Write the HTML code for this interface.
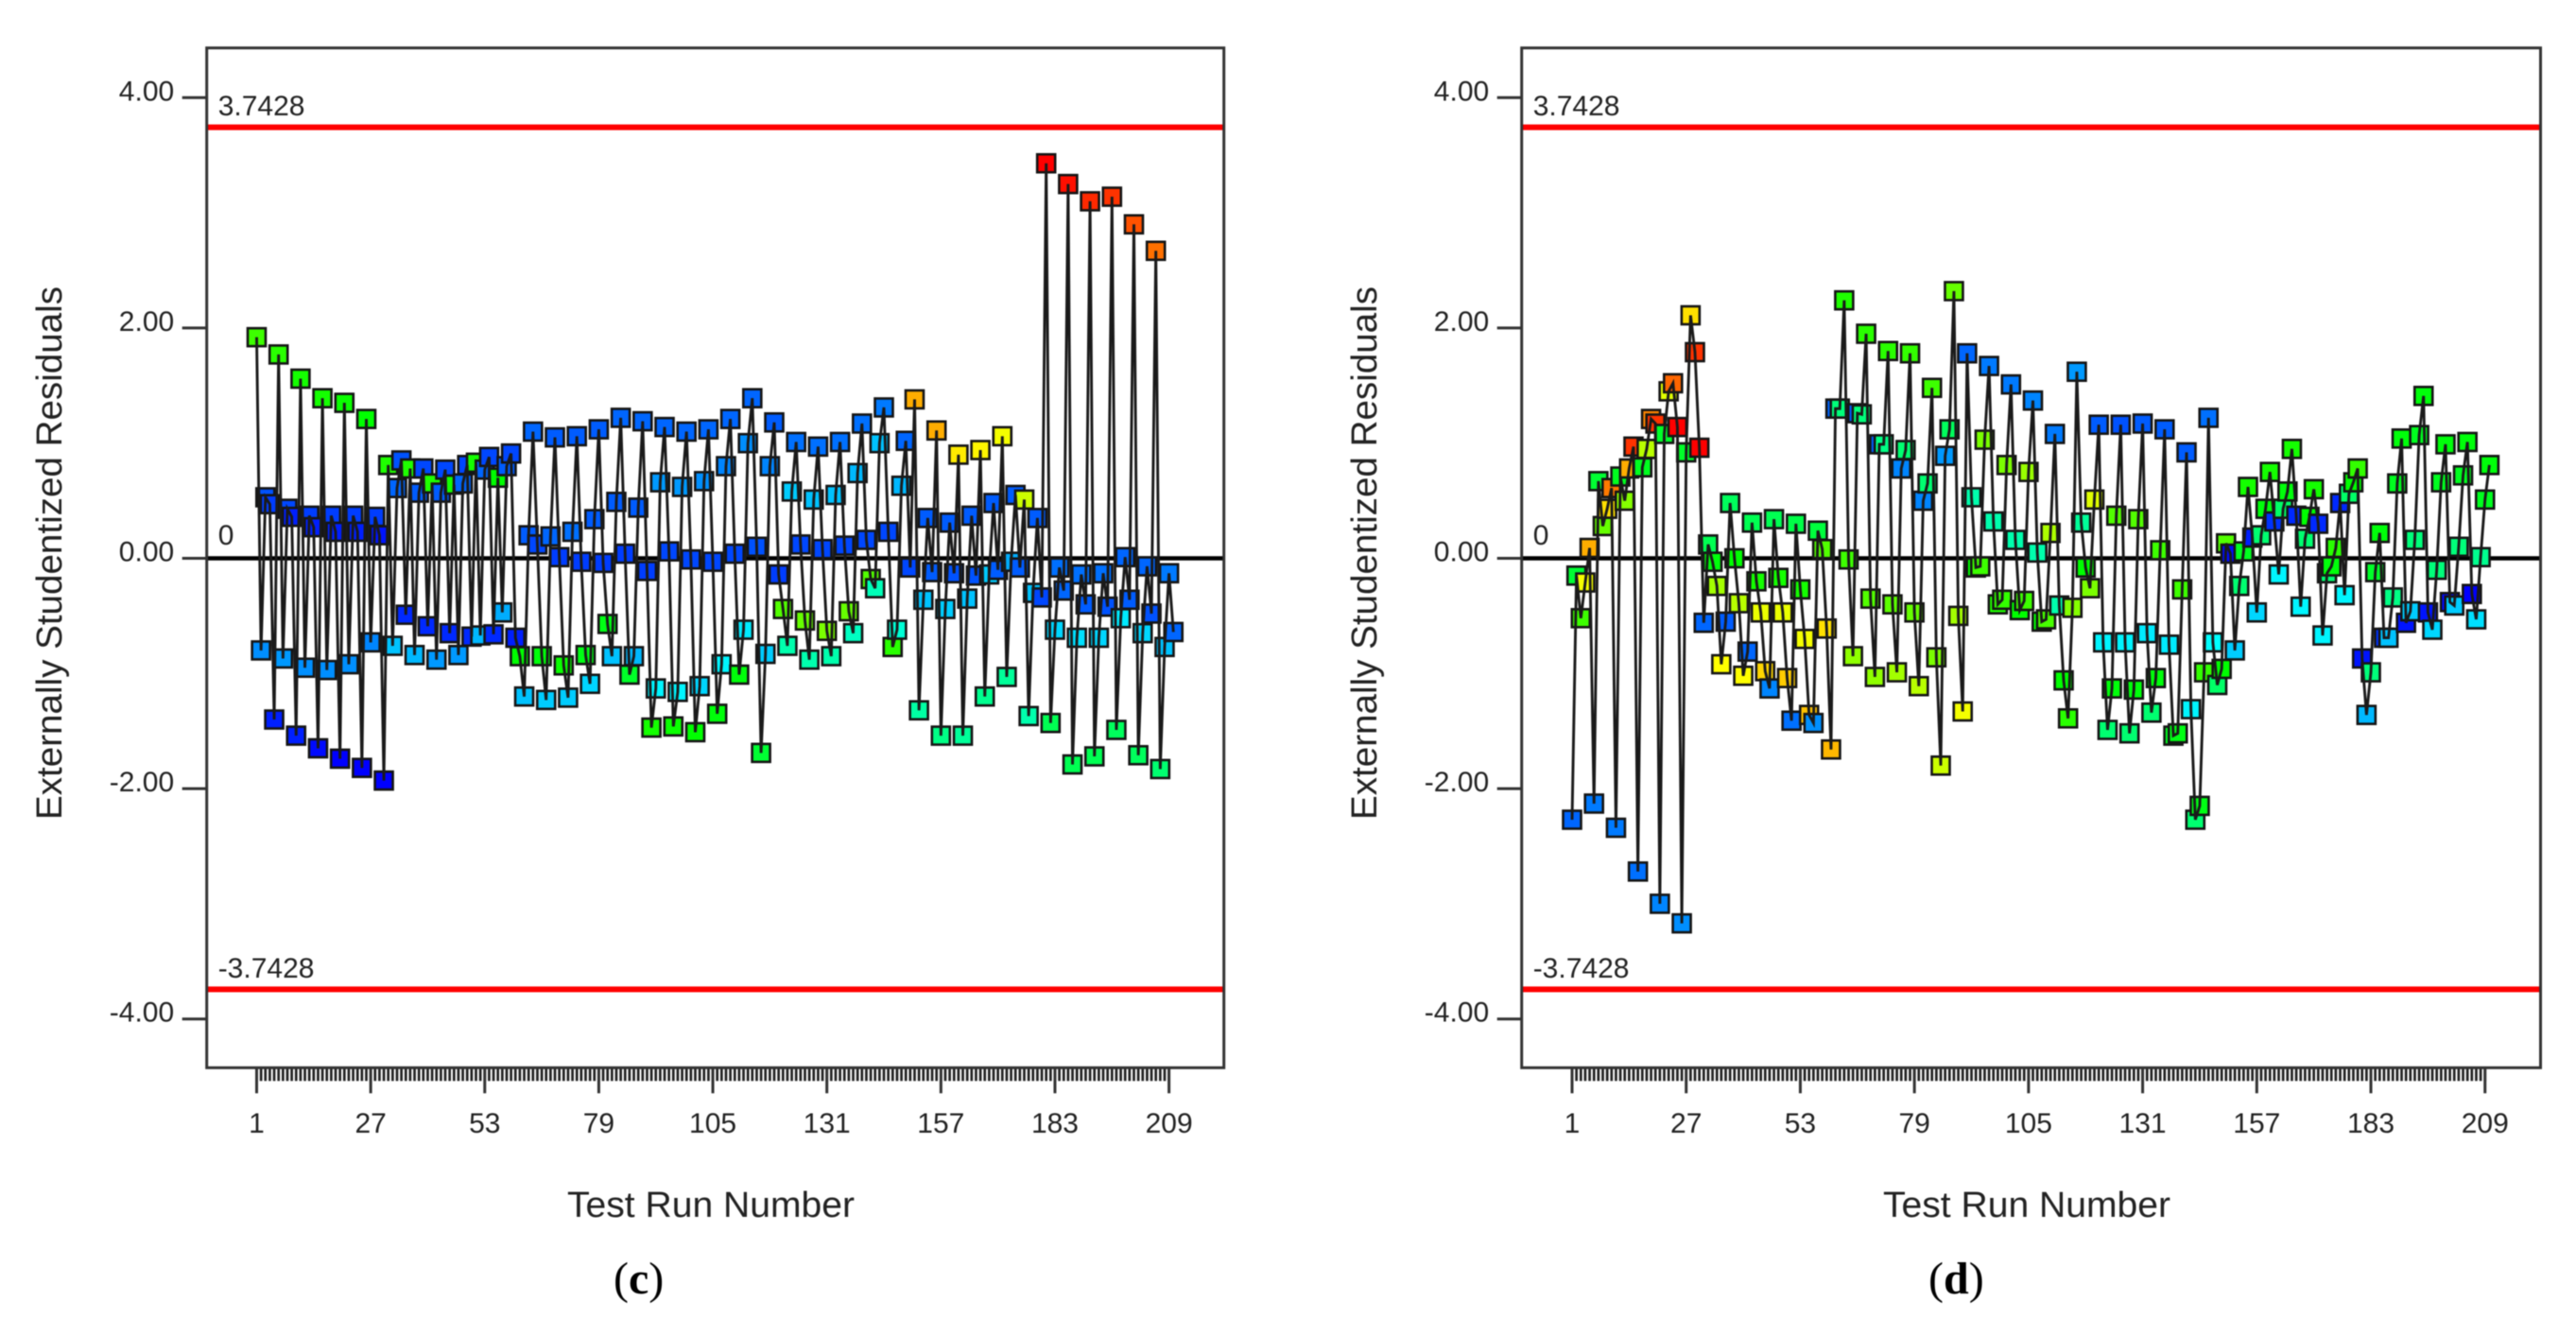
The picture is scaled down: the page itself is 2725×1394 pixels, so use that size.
<!DOCTYPE html>
<html lang="en">
<head>
<meta charset="utf-8">
<title>Externally Studentized Residuals vs Test Run Number</title>
<style>
html,body{margin:0;padding:0;background:#fff;}
svg{display:block;filter:blur(0.45px);}
text{font-family:"Liberation Sans",Arial,sans-serif;fill:#222;}
.cap{font-family:"Liberation Serif","Times New Roman",serif;fill:#000;font-size:48px;}
</style>
</head>
<body>
<svg id="figure" xmlns="http://www.w3.org/2000/svg" width="2725" height="1394" viewBox="0 0 2725 1394">
  <rect x="0" y="0" width="2725" height="1394" fill="#fff"/>

  <g id="panel-c"></g>
  <g id="panel-d"></g>

  <text transform="translate(65,585) rotate(-90)" text-anchor="middle" font-size="38" textLength="564" lengthAdjust="spacingAndGlyphs">Externally Studentized Residuals</text>
  <text x="752" y="1287" text-anchor="middle" font-size="38" textLength="304" lengthAdjust="spacingAndGlyphs">Test Run Number</text>
  <text class="cap" x="649" y="1368">(<tspan font-weight="bold">c</tspan>)</text>

  <text transform="translate(1456,585) rotate(-90)" text-anchor="middle" font-size="38" textLength="564" lengthAdjust="spacingAndGlyphs">Externally Studentized Residuals</text>
  <text x="2144" y="1287" text-anchor="middle" font-size="38" textLength="304" lengthAdjust="spacingAndGlyphs">Test Run Number</text>
  <text class="cap" x="2040" y="1368">(<tspan font-weight="bold">d</tspan>)</text>
</svg>

<script>
const yTickValues = [4, 2, 0, -2, -4];
const yTickLabels = ["4.00", "2.00", "0.00", "-2.00", "-4.00"];
const xTickRuns = [1, 27, 53, 79, 105, 131, 157, 183, 209];
const limitValues = [3.7428, -3.7428];
const limitLabels = ["3.7428", "-3.7428"];

const residualsC = [
1.92,-0.80,0.53,0.47,-1.40,
1.77,-0.87,0.43,0.36,-1.54,
1.56,-0.95,0.37,0.27,-1.65,
1.39,-0.97,0.37,0.23,-1.74,
1.35,-0.92,0.37,0.23,-1.82,
1.21,-0.73,0.36,0.20,-1.93,
0.81,-0.76,0.61,0.85,-0.49,
0.78,-0.84,0.57,0.78,-0.59,
0.65,-0.88,0.57,0.77,-0.65,
0.64,-0.84,0.65,0.81,-0.68,
0.83,-0.67,0.77,0.88,-0.66,
0.70,-0.47,0.80,0.91,-0.69,
-0.85,-1.20,0.20,1.10,0.12,
-0.85,-1.23,0.19,1.05,0.01,
-0.93,-1.21,0.23,1.06,-0.03,
-0.84,-1.09,0.34,1.12,-0.04,
-0.57,-0.85,0.49,1.22,0.04,
-1.01,-0.85,0.44,1.19,-0.11,
-1.47,-1.13,0.66,1.14,0.06,
-1.46,-1.16,0.62,1.10,-0.01,
-1.51,-1.11,0.67,1.12,-0.03,
-1.35,-0.92,0.80,1.21,0.04,
-1.01,-0.62,1.00,1.39,0.10,
-1.69,-0.83,0.80,1.18,-0.14,
-0.44,-0.76,0.58,1.01,0.12,
-0.54,-0.88,0.51,0.97,0.08,
-0.63,-0.85,0.55,1.01,0.11,
-0.46,-0.65,0.74,1.17,0.16,
-0.18,-0.26,1.00,1.31,0.23,
-0.77,-0.62,0.63,1.02,-0.08,
1.38,-1.32,-0.36,0.35,-0.12,
1.11,-1.54,-0.44,0.31,-0.13,
0.90,-1.54,-0.35,0.37,-0.15,
0.94,-1.20,-0.14,0.48,-0.10,
1.06,-1.03,-0.03,0.55,-0.08,
0.51,-1.37,-0.30,0.35,-0.34,
3.43,-1.43,-0.62,-0.08,-0.28,
3.25,-1.79,-0.69,-0.14,-0.40,
3.10,-1.72,-0.69,-0.13,-0.42,
3.14,-1.49,-0.52,0.01,-0.36,
2.90,-1.71,-0.65,-0.07,-0.48,
2.67,-1.83,-0.77,-0.13,-0.64
];

const responseLevelC = [
.56,.14,.08,.06,.03,
.54,.15,.07,.03,.03,
.52,.14,.06,.03,.01,
.52,.14,.06,.03,0,
.51,.14,.06,.03,0,
.50,.13,.06,.02,0,
.53,.19,.10,.08,.04,
.53,.18,.09,.07,.04,
.53,.15,.09,.07,.04,
.52,.15,.10,.07,.04,
.52,.18,.10,.07,.04,
.50,.17,.09,.07,.03,
.50,.19,.09,.10,.07,
.49,.20,.10,.09,.06,
.51,.20,.11,.09,.06,
.48,.21,.09,.09,.06,
.48,.19,.09,.10,.06,
.46,.18,.09,.10,.06,
.52,.24,.15,.10,.07,
.51,.24,.15,.10,.07,
.50,.21,.14,.10,.07,
.49,.24,.13,.10,.07,
.49,.23,.14,.10,.08,
.45,.20,.13,.09,.06,
.58,.33,.20,.11,.07,
.60,.33,.19,.11,.07,
.62,.33,.19,.11,.07,
.60,.31,.18,.11,.07,
.58,.32,.19,.12,.07,
.54,.29,.18,.10,.07,
.83,.34,.19,.09,.09,
.83,.37,.20,.09,.08,
.77,.35,.19,.09,.08,
.76,.36,.20,.09,.09,
.74,.35,.17,.09,.09,
.70,.33,.19,.09,.07,
1,.42,.21,.11,.10,
.985,.42,.22,.11,.09,
.96,.42,.21,.11,.08,
.95,.41,.23,.10,.09,
.92,.41,.21,.10,.08,
.89,.39,.19,.12,.10
];

const residualsD = [
-2.27,-0.15,-0.52,-0.21,0.09,
-2.13,0.67,0.28,0.43,0.61,
-2.34,0.71,0.50,0.78,0.97,
-2.72,0.79,0.95,1.21,1.17,
-3.00,1.08,1.45,1.52,1.14,
-3.17,0.92,2.11,1.79,0.96,
-0.56,0.12,-0.03,-0.24,-0.92,
-0.55,0.48,0.00,-0.39,-1.02,
-0.81,0.31,-0.20,-0.47,-0.98,
-1.13,0.34,-0.17,-0.47,-1.04,
-1.41,0.30,-0.27,-0.70,-1.36,
-1.43,0.24,0.08,-0.61,-1.66,
1.30,1.30,2.24,-0.01,-0.85,
1.26,1.25,1.95,-0.35,-1.03,
0.99,0.99,1.80,-0.40,-0.99,
0.78,0.94,1.78,-0.47,-1.11,
0.50,0.65,1.48,-0.86,-1.80,
0.89,1.12,2.32,-0.50,-1.33,
1.78,0.53,-0.08,-0.07,1.03,
1.67,0.32,-0.40,-0.36,0.81,
1.51,0.16,-0.45,-0.37,0.75,
1.37,0.05,-0.55,-0.53,0.22,
1.08,-0.41,-1.06,-1.39,-0.43,
1.62,0.31,-0.08,-0.26,0.51,
1.16,-0.73,-1.49,-1.13,0.37,
1.16,-0.73,-1.52,-1.14,0.34,
1.17,-0.65,-1.34,-1.04,0.07,
1.12,-0.75,-1.54,-1.52,-0.27,
0.92,-1.31,-2.27,-2.15,-0.99,
1.22,-0.73,-1.10,-0.96,0.13,
0.04,-0.80,-0.24,0.06,0.62,
0.18,-0.47,0.20,0.43,0.75,
0.32,-0.14,0.43,0.58,0.95,
0.37,-0.42,0.17,0.36,0.60,
0.30,-0.67,-0.13,-0.07,0.09,
0.48,-0.32,0.56,0.66,0.78,
-0.87,-1.36,-0.99,-0.12,0.22,
-0.69,-0.69,-0.34,0.65,1.04,
-0.56,-0.46,0.16,1.07,1.41,
-0.47,-0.62,-0.10,0.66,0.99,
-0.38,-0.41,0.10,0.72,1.01,
-0.31,-0.53,0.01,0.51,0.81
];

const responseLevelD = [
.10,.45,.56,.74,.83,
.12,.45,.60,.78,.88,
.12,.47,.63,.83,.95,
.11,.47,.68,.87,.95,
.13,.46,.72,.90,1,
.14,.46,.78,.95,1,
.10,.42,.49,.66,.75,
.09,.41,.50,.68,.75,
.10,.42,.52,.73,.79,
.13,.42,.52,.73,.80,
.11,.43,.52,.74,.81,
.14,.44,.58,.78,.82,
.10,.38,.53,.56,.64,
.09,.38,.54,.58,.64,
.09,.37,.54,.59,.66,
.13,.39,.55,.60,.68,
.13,.39,.56,.62,.70,
.15,.41,.60,.66,.74,
.10,.33,.50,.56,.62,
.12,.33,.53,.55,.62,
.12,.33,.50,.56,.65,
.13,.33,.50,.57,.67,
.12,.33,.50,.54,.63,
.15,.35,.50,.62,.72,
.09,.24,.39,.49,.58,
.08,.24,.39,.49,.58,
.09,.23,.39,.49,.56,
.09,.23,.47,.48,.56,
.09,.24,.39,.48,.55,
.11,.25,.40,.50,.58,
.01,.20,.39,.47,.52,
.03,.21,.39,.49,.52,
.05,.24,.40,.49,.52,
.04,.24,.39,.50,.52,
.04,.24,.39,.49,.54,
.04,.24,.40,.50,.55,
.02,.18,.38,.46,.49,
.05,.19,.37,.47,.49,
.02,.20,.38,.47,.49,
.02,.21,.38,.47,.49,
.01,.20,.38,.47,.49,
0,.22,.36,.47,.49
];

const SVG_NS = "http://www.w3.org/2000/svg";

function make(tag, attrs, parent) {
  const el = document.createElementNS(SVG_NS, tag);
  Object.keys(attrs).forEach(function (k) { el.setAttribute(k, attrs[k]); });
  parent.appendChild(el);
  return el;
}

function rainbow(t) {
  const v = Math.max(0, Math.min(1, t)) * 4;
  let r = 0, g = 0, b = 0;
  if (v < 1) { g = v; b = 1; }
  else if (v < 2) { g = 1; b = 2 - v; }
  else if (v < 3) { r = v - 2; g = 1; }
  else { r = 1; g = 4 - v; }
  return "rgb(" + Math.round(r * 255) + "," + Math.round(g * 255) + "," + Math.round(b * 255) + ")";
}

function drawPanel(panel, residuals, levels, box) {
  const yScale = function (v) { return 590.5 - v * 121.8; };
  const xScale = function (run) { return box.x1 + (run - 1) * box.dx; };

  // minor run ticks
  for (let run = 1; run <= 209; run++) {
    const tick = make("line", { x1: xScale(run), x2: xScale(run), y1: box.bottom, y2: box.bottom + 14, stroke: "#222", "stroke-width": 2.7 }, panel);
    
    
  }

  // labelled run ticks
  xTickRuns.forEach(function (run) {
    const tick = make("line", { x1: xScale(run), x2: xScale(run), y1: box.bottom, y2: box.bottom + 27, stroke: "#333", "stroke-width": 3 }, panel);
    
    
    const label = make("text", { x: xScale(run), y: 1198, "text-anchor": "middle", "font-size": 30 }, panel);
    
    
    label.textContent = String(run);
  });

  // y ticks
  yTickValues.forEach(function (v, i) {
    const tick = make("line", { x1: box.left - 26, x2: box.left, y1: yScale(v), y2: yScale(v), stroke: "#333", "stroke-width": 3 }, panel);
    
    
    const label = make("text", { x: box.left - 34.5, y: yScale(v) + 3, "text-anchor": "end", "font-size": 30 }, panel);
    
    
    label.textContent = yTickLabels[i];
  });

  // limit lines
  limitValues.forEach(function (v, i) {
    const line = make("line", { x1: box.left, x2: box.right, y1: yScale(v), y2: yScale(v), stroke: "#ff0000", "stroke-width": 6 }, panel);
    
    
    const label = make("text", { x: box.left + 12, y: yScale(v) - 12.5, "font-size": 30 }, panel);
    
    
    label.textContent = limitLabels[i];
  });

  // zero line
  const zero = make("line", { x1: box.left, x2: box.right, y1: yScale(0), y2: yScale(0), stroke: "#000", "stroke-width": 4.5 }, panel);
  
  
  const zeroLabel = make("text", { x: box.left + 12, y: 576, "font-size": 30 }, panel);
  
  
  zeroLabel.textContent = "0";

  // frame
  const frame = make("rect", { x: box.left, y: box.top, width: box.right - box.left, height: box.bottom - box.top, fill: "none", stroke: "#333", "stroke-width": 3 }, panel);
  
  

  // markers first, connecting line on top
  residuals.forEach(function (v, i) {
    const cx = xScale(i + 1), cy = yScale(v);
    const marker = make("rect", { x: cx - 9.5, y: cy - 9.5, width: 19, height: 19, fill: rainbow(levels[i]), stroke: "#151515", "stroke-width": 2.6 }, panel);
    
    
  });

  const points = residuals.map(function (v, i) { return xScale(i + 1).toFixed(2) + "," + yScale(v).toFixed(2); }).join(" ");
  const path = make("polyline", { points: points, fill: "none", stroke: "#1a1a1a", "stroke-width": 2.9, "stroke-linejoin": "miter" }, panel);
  
  
}

drawPanel(document.getElementById("panel-c"), residualsC, responseLevelC,
  { left: 218.7, right: 1294.7, top: 50.7, bottom: 1129.3, x1: 271.5, dx: 4.64 });
drawPanel(document.getElementById("panel-d"), residualsD, responseLevelD,
  { left: 1609.7, right: 2687.5, top: 50.7, bottom: 1129.3, x1: 1663, dx: 4.643 });
</script>
</body>
</html>
